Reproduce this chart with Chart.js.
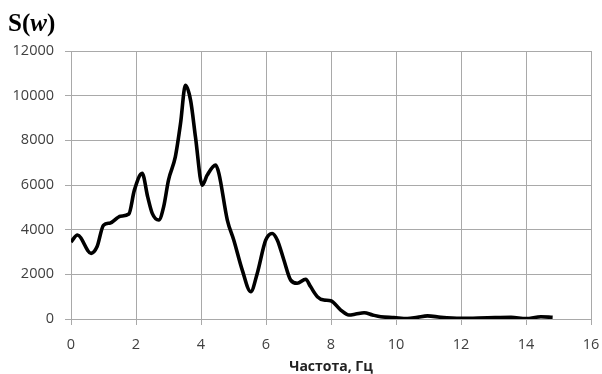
<!DOCTYPE html>
<html>
<head>
<meta charset="utf-8">
<script src="https://cdn.jsdelivr.net/npm/chart.js@4"></script>
<style>
  html, body { margin: 0; padding: 0; background: #fff; }
  #wrap { position: relative; width: 602px; height: 374px; }
  #title {
    position: absolute; left: 8px; top: 10px;
    font-family: "Liberation Serif", serif; font-weight: bold;
    font-size: 25px; line-height: 25px; color: #000;
  }
</style>
</head>
<body>
<div id="wrap">
  <canvas id="spectrum" width="602" height="374"></canvas>
  <div id="title">S(<i>w</i>)</div>
</div>
<script>
// частота, Гц
const freq = [0, 0.2, 0.62, 0.8, 1.0, 1.21, 1.52, 1.78, 1.95, 2.19, 2.36, 2.5, 2.7, 2.85, 3.0,
  3.21, 3.37, 3.52, 3.68, 3.83, 4.04, 4.19, 4.45, 4.55, 4.81, 5.01, 5.27, 5.53, 5.73, 5.99,
  6.19, 6.35, 6.55, 6.76, 6.96, 7.22, 7.37, 7.58, 7.78, 7.99, 8.3, 8.55, 8.76, 9.02, 9.28,
  9.53, 9.94, 10.35, 10.66, 10.97, 11.38, 12.0, 12.82, 13.54, 14.0, 14.46, 14.82];
// спектральная плотность S(w)
const spectrum = [3450, 3760, 2940, 3230, 4200, 4300, 4600, 4700, 5770, 6520, 5470, 4730, 4430, 5020, 6220,
  7260, 8750, 10460, 9790, 8150, 5990, 6440, 6890, 6520, 4430, 3530, 2190, 1220, 2040, 3530,
  3830, 3530, 2640, 1740, 1600, 1780, 1450, 1000, 850, 820, 400, 180, 220, 280, 180,
  100, 60, 15, 75, 140, 75, 30, 55, 75, 15, 100, 75];
const xTicks = [0, 2, 4, 6, 8, 10, 12, 14, 16];
const yTicks = [0, 2000, 4000, 6000, 8000, 10000, 12000];

const points = freq.map((f, i) => ({ x: f, y: spectrum[i] }));
const gridColor = "#a9a9a9";
const tickFont = { family: "Open Sans", size: 14.5 };

new Chart(document.getElementById("spectrum").getContext("2d"), {
  type: "line",
  data: {
    datasets: [{
      data: points,
      borderColor: "#000",
      borderWidth: 3.6,
      pointRadius: 0,
      fill: false,
      cubicInterpolationMode: "monotone"
    }]
  },
  options: {
    responsive: false,
    animation: false,
    layout: { padding: { left: 0, right: 11, top: 51, bottom: 0 } },
    plugins: { legend: { display: false }, tooltip: { enabled: false } },
    scales: {
      x: {
        type: "linear",
        min: xTicks[0],
        max: xTicks[xTicks.length - 1],
        afterBuildTicks: s => { s.ticks = xTicks.map(v => ({ value: v })); },
        afterFit: s => { s.height = 55; s.paddingLeft = 0; s.paddingRight = 0; },
        grid: { color: gridColor, tickLength: 6 },
        border: { color: gridColor },
        ticks: { color: "#404040", font: tickFont, padding: 11, maxRotation: 0, callback: v => String(v) },
        title: {
          display: true,
          text: "Частота, Гц",
          color: "#222",
          font: { family: "Open Sans", size: 14, weight: "bold", lineHeight: 1 },
          padding: { top: 0, bottom: 0 }
        }
      },
      y: {
        min: yTicks[0],
        max: yTicks[yTicks.length - 1],
        afterBuildTicks: s => { s.ticks = yTicks.map(v => ({ value: v })); },
        afterFit: s => { s.width = 71; s.paddingTop = 0; s.paddingBottom = 0; },
        grid: { color: gridColor, tickLength: 6 },
        border: { color: gridColor },
        ticks: { color: "#404040", font: tickFont, padding: 11, callback: v => String(v) }
      }
    }
  }
});
</script>
</body>
</html>
